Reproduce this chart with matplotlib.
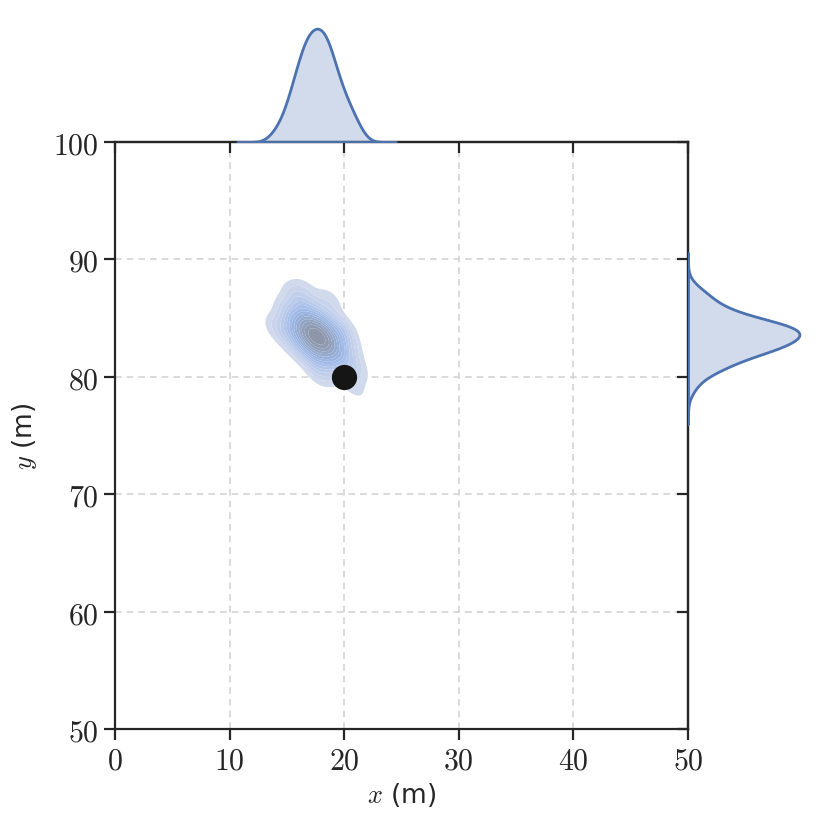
import numpy as np
import matplotlib
matplotlib.use("Agg")
import matplotlib.pyplot as plt
from matplotlib.colors import ListedColormap
import seaborn as sns
from seaborn.external import husl
from matplotlib.ticker import FuncFormatter

# Estimated position samples (m)
sample_x = [18.10, 17.38, 17.43, 17.03, 18.07, 17.60,
            18.74, 18.89, 18.82, 18.54, 18.09, 17.58, 17.05, 16.63, 16.36, 16.33,
            16.50, 16.87, 17.36, 17.90, 18.40,
            19.66, 19.73, 19.43, 18.81, 17.99, 17.09, 16.29, 15.70, 15.46, 15.57,
            16.03, 16.78, 17.65, 18.53, 19.24,
            20.25, 20.60, 19.78, 18.14, 16.29, 14.95, 14.60, 15.42, 17.06, 18.91,
            21.18, 20.10, 15.62, 14.01, 17.91,
            20.89, 16.60, 18.83]
sample_y = [83.03, 83.93, 83.06, 83.67, 83.46, 83.40,
            82.37, 82.72, 83.22, 83.73, 84.19, 84.50, 84.62, 84.55, 84.26, 83.83,
            83.32, 82.83, 82.44, 82.21, 82.18,
            81.96, 82.67, 83.53, 84.34, 85.02, 85.40, 85.43, 85.12, 84.51, 83.71,
            82.85, 82.10, 81.57, 81.35, 81.49,
            81.00, 82.39, 84.16, 85.65, 86.29, 85.81, 84.41, 82.64, 81.15, 80.51,
            80.65, 84.00, 87.01, 84.01, 80.08,
            79.11, 87.40, 86.58]

true_x = [20]
true_y = [80]

x_ticks = [0, 10, 20, 30, 40, 50]
y_ticks = [50, 60, 70, 80, 90, 100]
x_label = r"$x$ (m)"
y_label = r"$y$ (m)"

sns.set_style("ticks")
plt.rcParams["font.family"] = ["DejaVu Sans"]
plt.rcParams["mathtext.fontset"] = "cm"

W, H = 830, 828
fig = plt.figure(figsize=(W / 100, H / 100), dpi=100)
L, R, T, B = 115, 688, 143, 730
ax = fig.add_axes([L / W, 1 - B / H, (R - L) / W, (B - T) / H])
axx = fig.add_axes([L / W, 1 - T / H, (R - L) / W, 119 / H], sharex=ax)
axy = fig.add_axes([R / W, 1 - B / H, 117 / W, (B - T) / H], sharey=ax)

blue = sns.color_palette("deep")[0]
dark = "#262626"

# seaborn-like colour ramp from the series colour, lightened toward white
h, s, _ = husl.rgb_to_husl(*blue)
xx = np.linspace(-1, 1, int(1.15 * 256))[:256]
ramp = np.zeros((256, 3))
ramp[:, 0] = h
ramp[:, 1] = s * np.cos(xx)
ramp[:, 2] = np.linspace(35, 80, 256)
cols = np.clip([husl.husl_to_rgb(*c) for c in ramp], 0, 1)[::-1]
strength = 0.62
cols = 1 - strength * (1 - cols)
kde_cmap = ListedColormap(cols)

ax.grid(True, linestyle=(0, (4, 3)), color="#d4d4d4", linewidth=1.2)
ax.set_axisbelow(True)
sns.kdeplot(x=sample_x, y=sample_y, fill=True, cmap=kde_cmap, ax=ax,
            levels=15, antialiased=True, warn_singular=False)
ax.scatter(true_x, true_y, s=330, color="#151515", zorder=5, linewidths=0)

sns.kdeplot(x=sample_x, fill=True, color=blue, ax=axx, linewidth=2, cut=4.5,
            zorder=3)
sns.kdeplot(y=sample_y, fill=True, color=blue, ax=axy, linewidth=2, cut=4,
            zorder=3)

ax.set_xlim(0, 50)
ax.set_ylim(50, 100)
ax.set_xticks(x_ticks)
ax.set_yticks(y_ticks)
fmt = FuncFormatter(lambda v, p: r"$%d$" % v)
ax.xaxis.set_major_formatter(fmt)
ax.yaxis.set_major_formatter(fmt)
ax.tick_params(axis="both", which="major", direction="out", length=8,
               width=1.6, color=dark, labelsize=21.5, labelcolor=dark,
               top=False, right=False, pad=4)
for sp in ax.spines.values():
    sp.set_visible(True)
    sp.set_color(dark)
    sp.set_linewidth(1.6)
ax.set_xlabel(x_label, fontsize=19, color=dark, labelpad=4)
ax.set_ylabel(y_label, fontsize=19, color=dark, labelpad=10)

# marginal x
axx.set_ylim(bottom=0)
axx.yaxis.set_visible(False)
axx.grid(False)
for k in ("top", "right", "left"):
    axx.spines[k].set_visible(False)
axx.spines["bottom"].set_color(dark)
axx.spines["bottom"].set_linewidth(1.6)
axx.tick_params(axis="x", direction="out", length=8, width=1.6, color=dark,
                labelbottom=False)
axx.set_xlabel("")

# marginal y
axy.set_xlim(left=0)
axy.xaxis.set_visible(False)
axy.grid(False)
for k in ("top", "right", "bottom"):
    axy.spines[k].set_visible(False)
axy.spines["left"].set_color(dark)
axy.spines["left"].set_linewidth(1.6)
axy.tick_params(axis="y", direction="out", length=8, width=1.6, color=dark,
                labelleft=False)
axy.set_ylabel("")

ax.set_xlim(0, 50)
ax.set_ylim(50, 100)
fig.patch.set_facecolor("white")
for a in (axx, axy):
    a.patch.set_alpha(0)

fig.savefig("out.png", dpi=100)
